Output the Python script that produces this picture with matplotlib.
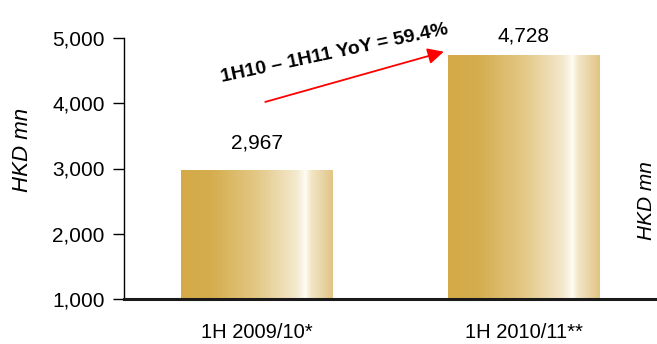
import matplotlib.pyplot as plt
import numpy as np
from matplotlib.colors import LinearSegmentedColormap
from matplotlib.ticker import FuncFormatter

plt.rcParams['font.family'] = ['Liberation Sans', 'DejaVu Sans']

periods = ['1H 2009/10*', '1H 2010/11**']
revenue = [2967, 4728]
yoy_text = '1H10 \u2013 1H11 YoY = 59.4%'

# golden gradient with a bright highlight near the right edge
gold = LinearSegmentedColormap.from_list('gold', [
    (0.00, '#D4AA48'),
    (0.20, '#D5AD4E'),
    (0.50, '#E3C886'),
    (0.76, '#F4E9CE'),
    (0.82, '#FFFCF4'),
    (0.86, '#F2E5C6'),
    (1.00, '#E0C585'),
])
grad = np.linspace(0, 1, 256).reshape(1, -1)

fig = plt.figure(figsize=(6.57, 3.44), dpi=100)
ax = fig.add_axes([124 / 657, 45 / 344, 533 / 657, 261 / 344])

x = np.arange(len(periods))
width = 0.57
bars = ax.bar(x, revenue, width=width, color='none', edgecolor='none')
for b in bars:
    x0, w = b.get_x(), b.get_width()
    ax.imshow(grad, cmap=gold, aspect='auto', extent=[x0, x0 + w, 1000, b.get_height()],
              zorder=2)

# value labels above the bars
label_gap = [280, 150]
for xi, v, g in zip(x, revenue, label_gap):
    ax.text(xi, v + g, f'{v:,}', ha='center', va='bottom', fontsize=15)

ax.set_xlim(-0.5, 1.5)
ax.set_ylim(1000, 5000)
ax.set_yticks([1000, 2000, 3000, 4000, 5000])
ax.yaxis.set_major_formatter(FuncFormatter(lambda v, p: f'{int(v):,}'))
ax.set_xticks(x)
ax.set_xticklabels(periods)
ax.tick_params(axis='x', length=0, labelsize=14.5, pad=17)
ax.tick_params(axis='y', direction='out', length=8, width=1, labelsize=15, pad=6)

ax.spines['top'].set_visible(False)
ax.spines['right'].set_visible(False)
ax.spines['left'].set_linewidth(1)
ax.spines['bottom'].set_linewidth(2.2)
ax.spines['bottom'].set_color('#1a1a1a')
ax.spines['bottom'].set_zorder(5)

ax.set_ylabel('HKD mn', fontsize=16, style='italic')
ax.yaxis.set_label_coords(-0.17, 0.57)

# growth arrow and label
ax.annotate('', xy=(0.70, 4790), xytext=(0.03, 4020),
            arrowprops=dict(arrowstyle='-|>', color='red', lw=1.3,
                            mutation_scale=24, shrinkA=0, shrinkB=0))
ax.text(0.29, 4760, yoy_text, fontsize=14, fontweight='bold', rotation=12,
        ha='center', va='center', clip_on=False)

fig.text(647 / 657, 1 - 201 / 344, 'HKD mn', rotation=90, style='italic',
         fontsize=15, ha='center', va='center')

fig.savefig('out.png', dpi=100)
